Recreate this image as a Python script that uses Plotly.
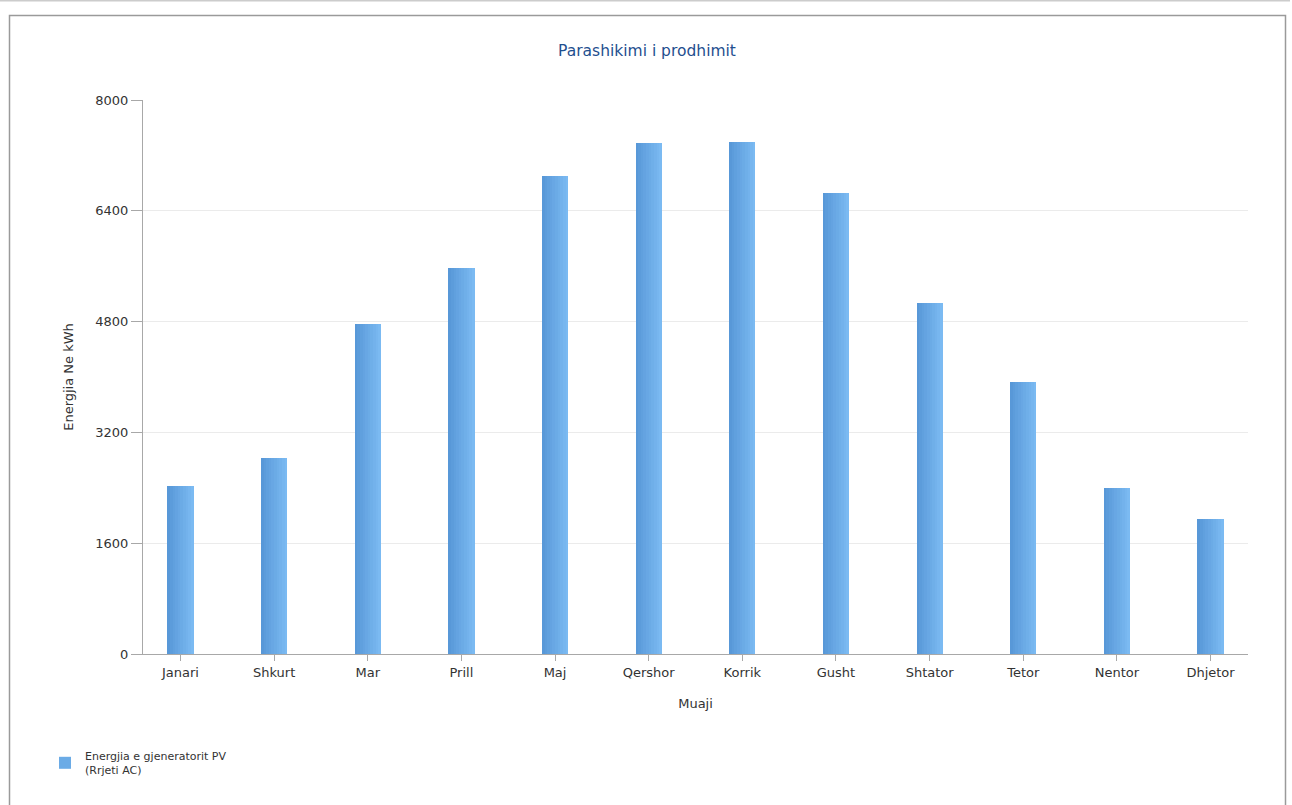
import plotly.graph_objects as go

months = ["Janari", "Shkurt", "Mar", "Prill", "Maj", "Qershor", "Korrik",
          "Gusht", "Shtator", "Tetor", "Nentor", "Dhjetor"]
energy_kwh = [2426, 2830, 4765, 5574, 6903, 7379, 7394, 6657, 5069, 3928, 2397, 1949]
y_ticks = [0, 1600, 3200, 4800, 6400, 8000]

title_text = "Parashikimi i prodhimit"
y_title = "Energjia Ne kWh"
x_title = "Muaji"
series_name = "Energjia e gjeneratorit PV<br>(Rrjeti AC)"

FONT = "DejaVu Sans"
c0 = (0x58, 0x98, 0xd8)
c1 = (0x7b, 0xba, 0xf2)
N = 10
bar_w = 0.28

fig = go.Figure()
for i in range(N):
    t = i / (N - 1)
    col = "rgb(%d,%d,%d)" % tuple(round(a + (b - a) * t) for a, b in zip(c0, c1))
    fig.add_trace(go.Bar(
        x=list(range(len(months))), y=energy_kwh,
        width=bar_w / N, offset=-bar_w / 2 + i * bar_w / N,
        marker=dict(color=col, line=dict(width=0)),
        name=series_name, showlegend=(i == N // 2),
        hoverinfo="skip" if i != N // 2 else None,
    ))

fig.update_layout(
    width=1292, height=805,
    margin=dict(l=143, r=44, t=100, b=151),
    paper_bgcolor="white", plot_bgcolor="white",
    barmode="overlay", bargap=0,
    font=dict(family=FONT, size=12, color="#333333"),
    title=dict(text=title_text, x=647 / 1292, xanchor="center",
               y=1 - 51 / 805, yanchor="middle",
               font=dict(family=FONT, size=15.5, color="#1f4f8f")),
    xaxis=dict(
        tickmode="array", tickvals=list(range(len(months))), ticktext=months,
        range=[-0.4, 11.4], showgrid=False, zeroline=False,
        showline=True, linecolor="#a8a8a8", linewidth=1,
        ticks="outside", ticklen=6, tickcolor="#a8a8a8",
        tickfont=dict(size=13, color="#333333"),
        title=dict(text=x_title, font=dict(size=13, color="#333333"), standoff=20),
    ),
    yaxis=dict(
        range=[0, 8000], tickmode="array", tickvals=y_ticks,
        showgrid=True, gridcolor="#ebebeb", gridwidth=1, zeroline=False,
        showline=True, linecolor="#a8a8a8", linewidth=1,
        ticks="outside", ticklen=11, tickcolor="#a8a8a8",
        tickfont=dict(size=13, color="#333333"),
        title=dict(text=y_title, font=dict(size=13, color="#333333"), standoff=18),
    ),
    legend=dict(
        x=(45 - 143) / 1105, y=(654 - 742) / 554, xanchor="left", yanchor="top",
        font=dict(size=11, color="#333333"), bgcolor="rgba(0,0,0,0)",
        itemsizing="constant",
    ),
    shapes=[
        dict(type="rect", xref="paper", yref="paper",
             x0=(9.5 - 143) / 1105, x1=(1285.5 - 143) / 1105,
             y0=(654 - 900) / 554, y1=(654 - 15.5) / 554,
             line=dict(color="#9a9a9a", width=1.5), fillcolor="rgba(0,0,0,0)",
             layer="below"),
        dict(type="line", xref="paper", yref="paper",
             x0=(0 - 143) / 1105, x1=(1290 - 143) / 1105,
             y0=(654 - 0.75) / 554, y1=(654 - 0.75) / 554,
             line=dict(color="#cccccc", width=1.5)),
    ],
)

fig.write_html("out.html",
               config={"displayModeBar": False},
               post_script="document.body.style.margin='0';document.body.style.overflow='hidden';")
